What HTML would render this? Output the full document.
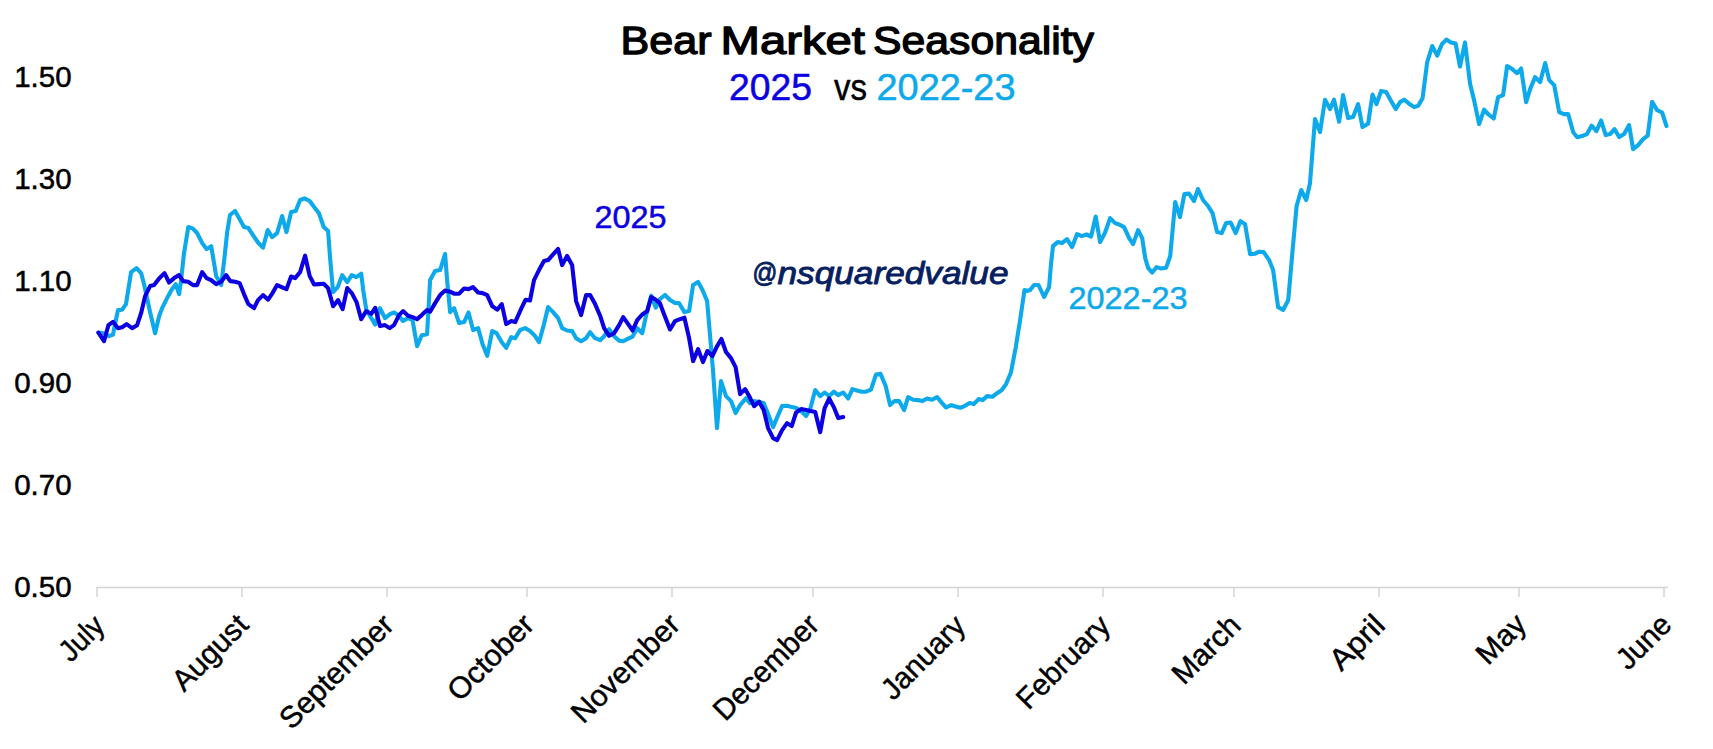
<!DOCTYPE html>
<html><head><meta charset="utf-8"><title>Bear Market Seasonality</title>
<style>
html,body{margin:0;padding:0;background:#fff;}
body{width:1713px;height:749px;overflow:hidden;font-family:"Liberation Sans",sans-serif;}
svg{display:block;}
text{font-family:"Liberation Sans",sans-serif;}
.ax text{font-size:29px;fill:#000;stroke:#000;stroke-width:0.5px;}
.mo text{font-size:30px;fill:#000;stroke:#000;stroke-width:0.45px;text-anchor:end;}
</style></head><body>
<svg width="1713" height="749" viewBox="0 0 1713 749">
<rect width="1713" height="749" fill="#ffffff"/>
<g stroke="#d4d4d4" stroke-width="1.5" fill="none">
<path d="M96.3,587.5 H1668"/>
<path d="M97,587.5 V597"/>
<path d="M242,587.5 V597"/>
<path d="M387,587.5 V597"/>
<path d="M527,587.5 V597"/>
<path d="M672,587.5 V597"/>
<path d="M813,587.5 V597"/>
<path d="M958,587.5 V597"/>
<path d="M1103,587.5 V597"/>
<path d="M1234,587.5 V597"/>
<path d="M1379,587.5 V597"/>
<path d="M1519,587.5 V597"/>
<path d="M1664,587.5 V597"/>
</g>
<g class="ax">
<text x="14.2" y="87.1" textLength="57.4" lengthAdjust="spacingAndGlyphs">1.50</text>
<text x="14.2" y="189.2" textLength="57.4" lengthAdjust="spacingAndGlyphs">1.30</text>
<text x="14.2" y="291.2" textLength="57.4" lengthAdjust="spacingAndGlyphs">1.10</text>
<text x="14.2" y="393.2" textLength="57.4" lengthAdjust="spacingAndGlyphs">0.90</text>
<text x="14.2" y="495.2" textLength="57.4" lengthAdjust="spacingAndGlyphs">0.70</text>
<text x="14.2" y="597.2" textLength="57.4" lengthAdjust="spacingAndGlyphs">0.50</text>
</g>
<g class="mo">
<text transform="translate(106.2,627.6) rotate(-45)" textLength="50.3" lengthAdjust="spacingAndGlyphs">July</text>
<text transform="translate(250.1,626.7) rotate(-45)" textLength="93.5" lengthAdjust="spacingAndGlyphs">August</text>
<text transform="translate(395.6,626.7) rotate(-45)" textLength="147.2" lengthAdjust="spacingAndGlyphs">September</text>
<text transform="translate(535.8,626.4) rotate(-45)" textLength="108.0" lengthAdjust="spacingAndGlyphs">October</text>
<text transform="translate(681.9,626.2) rotate(-45)" textLength="139.5" lengthAdjust="spacingAndGlyphs">November</text>
<text transform="translate(820.9,626.7) rotate(-45)" textLength="135.1" lengthAdjust="spacingAndGlyphs">December</text>
<text transform="translate(967.0,627.6) rotate(-45)" textLength="104.4" lengthAdjust="spacingAndGlyphs">January</text>
<text transform="translate(1111.8,627.6) rotate(-45)" textLength="117.8" lengthAdjust="spacingAndGlyphs">February</text>
<text transform="translate(1242.5,627.3) rotate(-45)" textLength="82.9" lengthAdjust="spacingAndGlyphs">March</text>
<text transform="translate(1386.7,626.9) rotate(-45)" textLength="64.2" lengthAdjust="spacingAndGlyphs">April</text>
<text transform="translate(1528.0,626.2) rotate(-45)" textLength="56.5" lengthAdjust="spacingAndGlyphs">May</text>
<text transform="translate(1673.2,626.4) rotate(-45)" textLength="63.6" lengthAdjust="spacingAndGlyphs">June</text>
</g>
<path d="M98.4,332.6 L103.0,333.2 L109.0,336.2 L113.0,334.6 L115.0,324.2 L118.0,310.1 L122.0,309.7 L126.0,304.1 L131.1,272.1 L136.5,268.1 L141.1,273.1 L144.5,286.1 L150.1,312.2 L155.1,333.2 L159.1,316.2 L162.1,308.1 L167.1,298.1 L172.1,289.1 L175.7,284.1 L179.1,294.1 L181.1,280.1 L183.9,254.1 L188.3,227.0 L192.7,228.4 L197.1,233.0 L202.2,243.1 L206.6,249.1 L211.2,246.1 L216.2,276.1 L221.2,285.1 L224.2,260.1 L227.2,232.0 L230.0,215.0 L235.0,211.0 L239.6,219.0 L244.0,227.0 L248.4,228.1 L253.0,235.1 L258.0,242.5 L263.0,247.7 L267.7,230.1 L272.1,237.1 L277.1,233.1 L282.1,216.0 L286.5,232.1 L291.1,212.0 L295.7,211.0 L300.1,200.0 L304.5,198.4 L309.7,201.0 L314.1,207.0 L319.1,213.6 L323.7,227.0 L328.1,231.1 L330.1,258.1 L333.1,292.1 L337.7,287.1 L342.2,275.1 L347.2,282.1 L351.8,275.1 L356.2,277.1 L361.2,273.7 L363.2,290.1 L366.2,309.2 L370.2,316.2 L375.2,324.6 L380.0,308.1 L385.0,318.1 L390.0,314.1 L394.0,312.5 L399.0,315.7 L403.0,321.1 L408.1,318.1 L412.5,320.1 L417.1,346.2 L421.7,335.2 L427.1,334.2 L430.1,280.1 L435.1,271.1 L440.1,270.1 L445.1,254.0 L447.1,280.1 L450.1,312.1 L454.1,308.1 L459.1,323.1 L464.1,322.1 L468.5,312.5 L473.1,330.1 L478.1,328.1 L482.6,344.2 L487.2,355.8 L492.2,331.1 L496.6,333.2 L501.8,342.2 L506.2,347.8 L511.2,337.2 L515.2,338.2 L520.0,330.1 L525.0,328.1 L530.0,331.1 L534.4,335.2 L539.0,342.2 L544.0,324.1 L548.1,307.1 L553.1,312.1 L558.1,318.1 L562.1,328.1 L567.1,330.5 L572.1,331.1 L576.1,338.2 L581.1,341.2 L586.1,338.2 L590.1,332.2 L595.1,338.2 L600.1,340.2 L604.1,336.2 L609.1,329.1 L614.1,336.2 L619.1,340.6 L623.2,341.2 L628.2,338.6 L632.6,336.6 L637.2,328.1 L642.2,333.2 L646.2,315.1 L651.2,295.7 L655.8,307.7 L660.0,299.0 L665.0,295.0 L670.0,300.0 L675.0,303.0 L679.0,303.0 L684.4,312.1 L689.1,311.1 L693.1,285.0 L698.1,282.0 L702.5,290.0 L707.1,301.0 L710.1,336.1 L713.0,370.1 L717.0,428.1 L721.0,381.1 L726.0,396.1 L731.0,401.1 L735.6,413.1 L740.1,405.1 L746.1,398.1 L749.7,403.1 L754.1,401.1 L759.1,402.1 L763.7,403.1 L768.1,414.1 L773.1,427.1 L778.1,415.1 L782.1,406.1 L787.1,405.7 L792.1,407.1 L796.1,408.1 L801.1,411.1 L806.1,416.1 L810.5,408.1 L815.2,390.1 L820.2,396.1 L824.6,392.5 L829.2,396.1 L833.8,391.7 L838.2,395.1 L843.2,392.5 L848.2,398.5 L852.4,389.1 L857.0,390.5 L861.6,391.7 L866.0,391.7 L871.0,389.7 L876.0,374.5 L880.5,373.7 L885.7,386.1 L890.1,405.1 L894.5,401.1 L899.1,401.1 L904.1,410.1 L908.1,397.1 L913.1,399.7 L918.1,400.1 L922.1,401.1 L927.1,398.5 L932.1,399.7 L937.1,397.1 L942.1,403.1 L946.1,407.5 L951.1,405.1 L955.8,406.5 L960.2,407.7 L964.6,406.1 L969.6,403.1 L973.8,404.1 L978.6,399.1 L982.6,400.1 L987.2,396.1 L992.4,396.8 L997.0,393.2 L1001.6,390.2 L1006.0,384.2 L1011.0,372.2 L1015.6,348.1 L1020.1,320.1 L1024.5,290.0 L1027.1,291.0 L1030.1,290.0 L1034.1,285.0 L1038.5,285.0 L1044.1,297.0 L1049.1,287.0 L1051.0,264.1 L1053.0,246.1 L1057.6,242.1 L1062.0,243.1 L1067.0,239.1 L1072.1,247.1 L1077.1,234.1 L1081.7,236.1 L1086.5,234.5 L1091.1,236.5 L1095.7,216.5 L1100.1,242.1 L1105.1,232.5 L1110.1,218.1 L1115.1,223.1 L1119.1,224.5 L1124.1,227.1 L1129.1,238.1 L1133.1,244.1 L1138.1,230.1 L1142.2,238.1 L1145.2,258.1 L1148.2,268.1 L1152.2,272.5 L1156.6,267.1 L1161.2,268.5 L1166.2,267.7 L1170.2,256.1 L1172.6,230.1 L1175.2,202.0 L1180.0,217.1 L1184.4,194.0 L1189.0,193.6 L1194.0,201.0 L1198.0,189.0 L1203.0,200.0 L1208.1,206.0 L1212.5,213.1 L1217.1,232.1 L1221.7,233.1 L1226.1,223.1 L1230.7,222.5 L1235.7,233.1 L1240.5,221.1 L1245.1,224.1 L1250.1,254.1 L1255.1,253.7 L1259.1,251.7 L1263.7,252.1 L1269.1,260.1 L1273.1,270.1 L1278.1,307.2 L1283.2,309.8 L1288.2,300.2 L1292.6,250.1 L1296.6,206.0 L1301.2,190.0 L1306.2,200.0 L1310.0,183.2 L1312.4,152.2 L1315.0,119.1 L1320.0,132.1 L1325.0,99.7 L1330.0,109.1 L1334.0,99.7 L1339.1,121.7 L1343.1,95.1 L1348.1,118.1 L1353.1,117.1 L1358.1,104.1 L1362.5,127.1 L1368.1,123.7 L1372.5,94.5 L1376.5,104.1 L1381.1,91.1 L1386.1,92.1 L1391.1,101.1 L1395.7,109.1 L1400.1,102.1 L1404.1,99.7 L1409.1,103.7 L1414.2,107.1 L1418.2,105.7 L1422.6,98.1 L1427.2,62.0 L1432.2,46.0 L1437.2,55.6 L1442.0,44.0 L1446.4,39.6 L1451.0,42.4 L1455.6,43.6 L1460.0,66.5 L1465.0,42.4 L1470.1,84.1 L1474.5,102.1 L1479.1,124.1 L1484.1,109.7 L1488.5,114.5 L1493.7,118.5 L1498.1,97.1 L1503.1,95.1 L1507.1,66.1 L1512.1,69.1 L1517.1,73.1 L1521.1,68.5 L1526.1,102.1 L1530.1,89.1 L1535.1,77.1 L1540.1,82.1 L1545.2,63.1 L1549.2,80.1 L1554.2,85.1 L1559.2,112.1 L1563.8,114.1 L1568.2,114.1 L1573.2,132.2 L1577.2,137.2 L1582.0,136.1 L1587.0,134.1 L1591.6,125.7 L1596.4,131.1 L1601.1,120.5 L1605.7,135.1 L1610.1,134.1 L1614.5,129.1 L1619.1,137.1 L1624.1,134.1 L1629.1,125.1 L1633.1,149.1 L1638.1,145.1 L1643.1,139.1 L1647.7,135.7 L1652.1,101.7 L1657.1,110.1 L1662.1,112.5 L1666.5,126.1" stroke="#0DA9EA" stroke-width="4.1" fill="none" stroke-linejoin="round" stroke-linecap="round"/>
<path d="M98.4,332.6 L104.0,341.2 L108.4,325.2 L113.0,321.8 L118.0,328.2 L122.0,327.2 L126.6,324.2 L132.1,328.2 L137.1,325.2 L141.1,313.2 L145.1,296.1 L150.1,286.1 L154.1,285.1 L159.1,278.5 L164.5,273.1 L169.1,282.5 L174.1,278.1 L179.1,275.1 L183.1,281.1 L188.1,281.7 L193.1,285.1 L197.1,285.1 L202.2,272.1 L206.6,278.1 L211.2,280.1 L216.2,284.1 L221.2,281.7 L226.2,275.1 L230.2,281.1 L235.2,281.7 L239.6,283.1 L244.0,294.1 L248.4,304.2 L254.0,308.2 L258.0,300.1 L263.0,295.1 L268.1,299.7 L272.5,293.1 L277.1,285.1 L281.7,287.1 L286.5,289.1 L291.1,276.5 L295.1,278.1 L300.1,272.1 L305.1,255.7 L309.7,276.1 L314.1,284.5 L319.1,284.1 L323.7,283.7 L328.1,288.1 L333.1,306.2 L338.1,300.1 L342.6,309.2 L347.2,288.1 L351.8,293.1 L356.6,302.2 L361.2,319.2 L366.2,311.2 L371.2,313.8 L375.2,307.8 L380.0,326.1 L385.0,325.1 L389.6,328.1 L394.0,325.1 L399.0,315.1 L403.0,311.1 L408.1,315.7 L412.5,317.1 L417.1,319.1 L421.7,315.1 L427.1,310.1 L430.1,311.7 L435.1,303.1 L440.1,295.1 L445.1,290.5 L450.1,291.7 L454.1,293.7 L459.1,293.7 L464.1,288.5 L468.5,289.1 L473.1,287.1 L478.1,292.5 L482.6,293.1 L487.2,295.1 L492.2,306.1 L497.2,309.7 L501.8,304.1 L506.2,324.1 L511.2,321.1 L515.2,322.1 L521.0,309.1 L525.6,299.7 L530.0,300.5 L534.0,280.1 L539.0,270.1 L544.0,261.1 L548.1,260.1 L553.1,254.4 L558.1,249.0 L562.1,265.1 L567.1,256.0 L572.1,265.1 L576.1,301.1 L581.1,315.1 L586.1,295.1 L590.1,295.1 L595.1,304.1 L600.1,315.7 L604.1,328.1 L609.1,335.8 L614.1,333.2 L619.1,325.1 L623.2,317.1 L628.2,324.1 L632.6,330.5 L637.2,320.1 L642.2,314.5 L647.2,311.1 L651.2,297.1 L655.8,299.7 L660.0,303.4 L663.0,311.5 L670.0,329.5 L675.0,321.1 L680.0,319.1 L684.4,317.7 L689.1,338.1 L693.1,361.1 L698.1,349.1 L703.0,362.1 L707.4,351.0 L712.4,356.0 L717.0,346.4 L721.4,339.0 L726.0,352.0 L731.0,358.1 L735.6,367.1 L740.1,394.1 L745.1,389.1 L749.7,397.1 L754.1,406.1 L759.1,401.7 L763.7,410.1 L768.1,428.1 L773.1,438.2 L777.1,440.2 L782.1,430.1 L787.1,423.1 L791.7,426.1 L796.1,412.5 L801.1,409.1 L806.1,410.1 L810.5,411.1 L815.2,412.1 L820.2,432.2 L824.6,408.1 L829.2,398.5 L833.8,407.1 L838.2,418.1 L843.2,417.1" stroke="#0C00E2" stroke-width="4.1" fill="none" stroke-linejoin="round" stroke-linecap="round"/>
<g font-size="39.5" fill="#000" stroke="#000" stroke-width="1.3" stroke-linejoin="round">
<text x="620.5" y="53.6" textLength="91" lengthAdjust="spacingAndGlyphs">Bear</text>
<text x="720.5" y="53.6" textLength="144.5" lengthAdjust="spacingAndGlyphs">Market</text>
<text x="873" y="53.6" textLength="221" lengthAdjust="spacingAndGlyphs">Seasonality</text>
</g>
<g font-size="36.5" stroke-width="0.5">
<text x="729" y="100" fill="#0C00E2" stroke="#0C00E2" textLength="83" lengthAdjust="spacingAndGlyphs">2025</text>
<text x="834" y="100" fill="#000" stroke="#000" textLength="33" lengthAdjust="spacingAndGlyphs">vs</text>
<text x="876.5" y="100" fill="#0DA9EA" stroke="#0DA9EA" textLength="139" lengthAdjust="spacingAndGlyphs">2022-23</text>
</g>
<text x="594.5" y="227.8" font-size="32" fill="#0C00E2" stroke="#0C00E2" stroke-width="0.5" textLength="72" lengthAdjust="spacingAndGlyphs">2025</text>
<text x="1068.5" y="308.6" font-size="32" fill="#0DA9EA" stroke="#0DA9EA" stroke-width="0.5" textLength="119" lengthAdjust="spacingAndGlyphs">2022-23</text>
<g font-style="italic" fill="#06205F" stroke="#06205F" stroke-width="0.9" stroke-linejoin="round">
<text x="752" y="281.5" font-size="27" textLength="25" lengthAdjust="spacingAndGlyphs">@</text>
<text x="777.5" y="283.5" font-size="32" textLength="231" lengthAdjust="spacingAndGlyphs">nsquaredvalue</text>
</g>
</svg>
</body></html>
